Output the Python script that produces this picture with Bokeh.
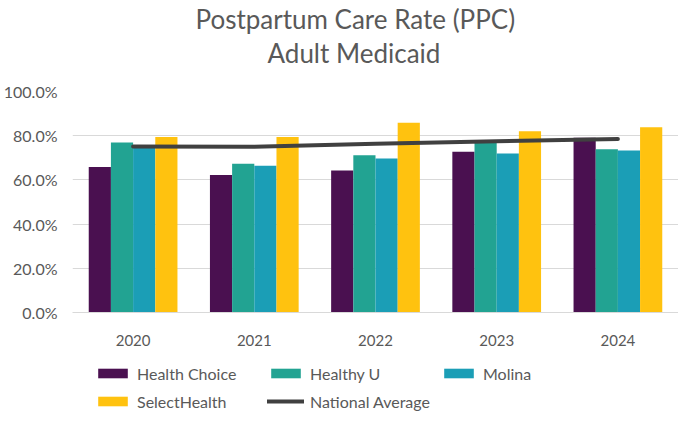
from bokeh.plotting import figure
from bokeh.models import ColumnDataSource, FactorRange, Range1d, NumeralTickFormatter, Legend, LegendItem, Title
from bokeh.layouts import column
from bokeh.transform import dodge
from bokeh.embed import file_html
from bokeh.resources import INLINE

years = ["2020", "2021", "2022", "2023", "2024"]
health_choice = [0.658, 0.622, 0.643, 0.727, 0.791]
healthy_u = [0.769, 0.673, 0.712, 0.770, 0.739]
molina = [0.752, 0.664, 0.697, 0.719, 0.733]
select_health = [0.794, 0.794, 0.859, 0.820, 0.838]
national_avg = [0.751, 0.750, 0.764, 0.775, 0.785]

series_names = ["Health Choice", "Healthy U", "Molina", "SelectHealth"]
colors = ["#4A1050", "#22A392", "#1B9EB6", "#FFC20F"]
line_color = "#404040"

src = ColumnDataSource(dict(year=years, hc=health_choice, hu=healthy_u, mo=molina,
                            sh=select_health, na=national_avg))

FONT = "Lato"
GREY = "#595959"

p = figure(x_range=FactorRange(*years), y_range=Range1d(0, 1.0),
           width=678, height=348, output_backend="svg", toolbar_location=None,
           min_border_left=70, min_border_right=0, min_border_top=5,
           min_border_bottom=0)

# spacer (closest to plot), then the two title lines
p.add_layout(Title(text=" ", text_font=FONT, text_font_size="17px", standoff=0), "above")
for txt, off in [("Adult Medicaid", 195), ("Postpartum Care Rate (PPC)", 123)]:
    t = Title(text=txt, align="left", text_font=FONT, text_font_size="26px",
              text_font_style="normal", text_color=GREY, standoff=0, offset=off)
    p.add_layout(t, "above")

w = 0.183
offsets = [-1.5 * w, -0.5 * w, 0.5 * w, 1.5 * w]
fields = ["hc", "hu", "mo", "sh"]
for f, off, c in zip(fields, offsets, colors):
    p.vbar(x=dodge("year", off, range=p.x_range), top=f, width=w, source=src,
           fill_color=c, line_color=None)

p.line(x="year", y="na", source=src, line_color=line_color, line_width=4, line_cap="round")

p.yaxis.formatter = NumeralTickFormatter(format="0.0%")
p.yaxis.ticker = [0, 0.2, 0.4, 0.6, 0.8, 1.0]
p.yaxis.axis_line_color = None
p.yaxis.major_tick_line_color = None
p.yaxis.minor_tick_line_color = None
p.yaxis.major_label_text_font = FONT
p.yaxis.major_label_text_font_size = "16px"
p.yaxis.major_label_text_color = GREY
p.yaxis.major_label_standoff = 9

p.xaxis.axis_line_color = "#D9D9D9"
p.xaxis.axis_line_width = 1
p.xaxis.major_tick_line_color = None
p.xaxis.minor_tick_line_color = None
p.xaxis.major_label_text_font = FONT
p.xaxis.major_label_text_font_size = "15px"
p.xaxis.major_label_text_color = GREY
p.xaxis.major_label_standoff = 16

p.xgrid.grid_line_color = None
p.ygrid.grid_line_color = "#D9D9D9"
p.ygrid.grid_line_width = 1
p.outline_line_color = None
p.x_range.range_padding = 0.0
p.x_range.group_padding = 0

# Legend strip: a second figure whose view range keeps the series' glyphs out of sight,
# so only the legend entries show.
lp = figure(x_range=FactorRange(*years), y_range=Range1d(10, 11),
            width=678, height=64, output_backend="svg", toolbar_location=None,
            x_axis_location=None, y_axis_location=None,
            min_border_left=0, min_border_right=0, min_border_top=0, min_border_bottom=0)
lp.grid.grid_line_color = None
lp.outline_line_color = None
leg_renderers = []
for f, off, c in zip(fields, offsets, colors):
    r = lp.vbar(x=dodge("year", off, range=lp.x_range), top=f, width=w, source=src,
                fill_color=c, line_color=None)
    leg_renderers.append(r)
lr = lp.line(x="year", y="na", source=src, line_color=line_color, line_width=4, line_cap="round")

all_items = [LegendItem(label=n, renderers=[r]) for n, r in zip(series_names, leg_renderers)]
all_items.append(LegendItem(label="National Average", renderers=[lr]))

rows = [(all_items[:3], 29), (all_items[3:], 1)]
for its, vy in rows:
    lg = Legend(items=its, orientation="horizontal", location=(22, vy),
                label_text_font=FONT, label_text_font_size="16px", label_text_color=GREY,
                glyph_width=37, glyph_height=12, label_standoff=6, spacing=20,
                border_line_color=None, background_fill_alpha=0,
                padding=0, margin=0, label_height=20, label_width=110)
    lp.add_layout(lg, "center")

layout = column(p, lp, spacing=0)
open("out.html", "w").write(file_html(layout, INLINE))
